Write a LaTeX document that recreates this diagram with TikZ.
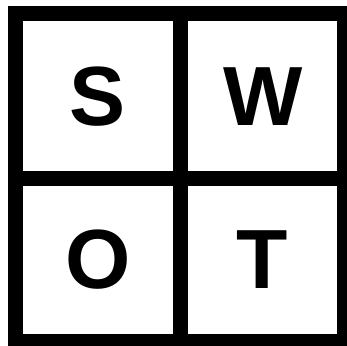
\documentclass[tikz,border=0pt]{standalone}
\usepackage{fontspec}
\setmainfont{Liberation Sans}
\usepackage{tikz}
\usetikzlibrary{positioning}

\begin{document}
\begin{tikzpicture}[
    x=1pt, y=-1pt,
    frame/.style={draw=black, line width=15pt},
    letter/.style={font=\fontsize{84}{84}\selectfont\bfseries, inner sep=0pt, anchor=center},
]
    % Canvas
    \fill[white] (0,0) rectangle (347,345);
    \useasboundingbox (0,0) rectangle (347,345);

    % Grid
    \draw[frame] (15.5,13.5) rectangle (344.2,341.8);
    \draw[frame] (180.3,13.5) -- (180.3,341.8);
    \draw[frame] (15.5,178.5) -- (344.2,178.5);

    % Letters
    \node[letter] (s) at (97.5,96.5) {S};
    \node[letter] (w) at (263,96.5) {W};
    \node[letter] (o) at (98,259.5) {O};
    \node[letter] (t) at (262,260) {T};
\end{tikzpicture}
\end{document}
